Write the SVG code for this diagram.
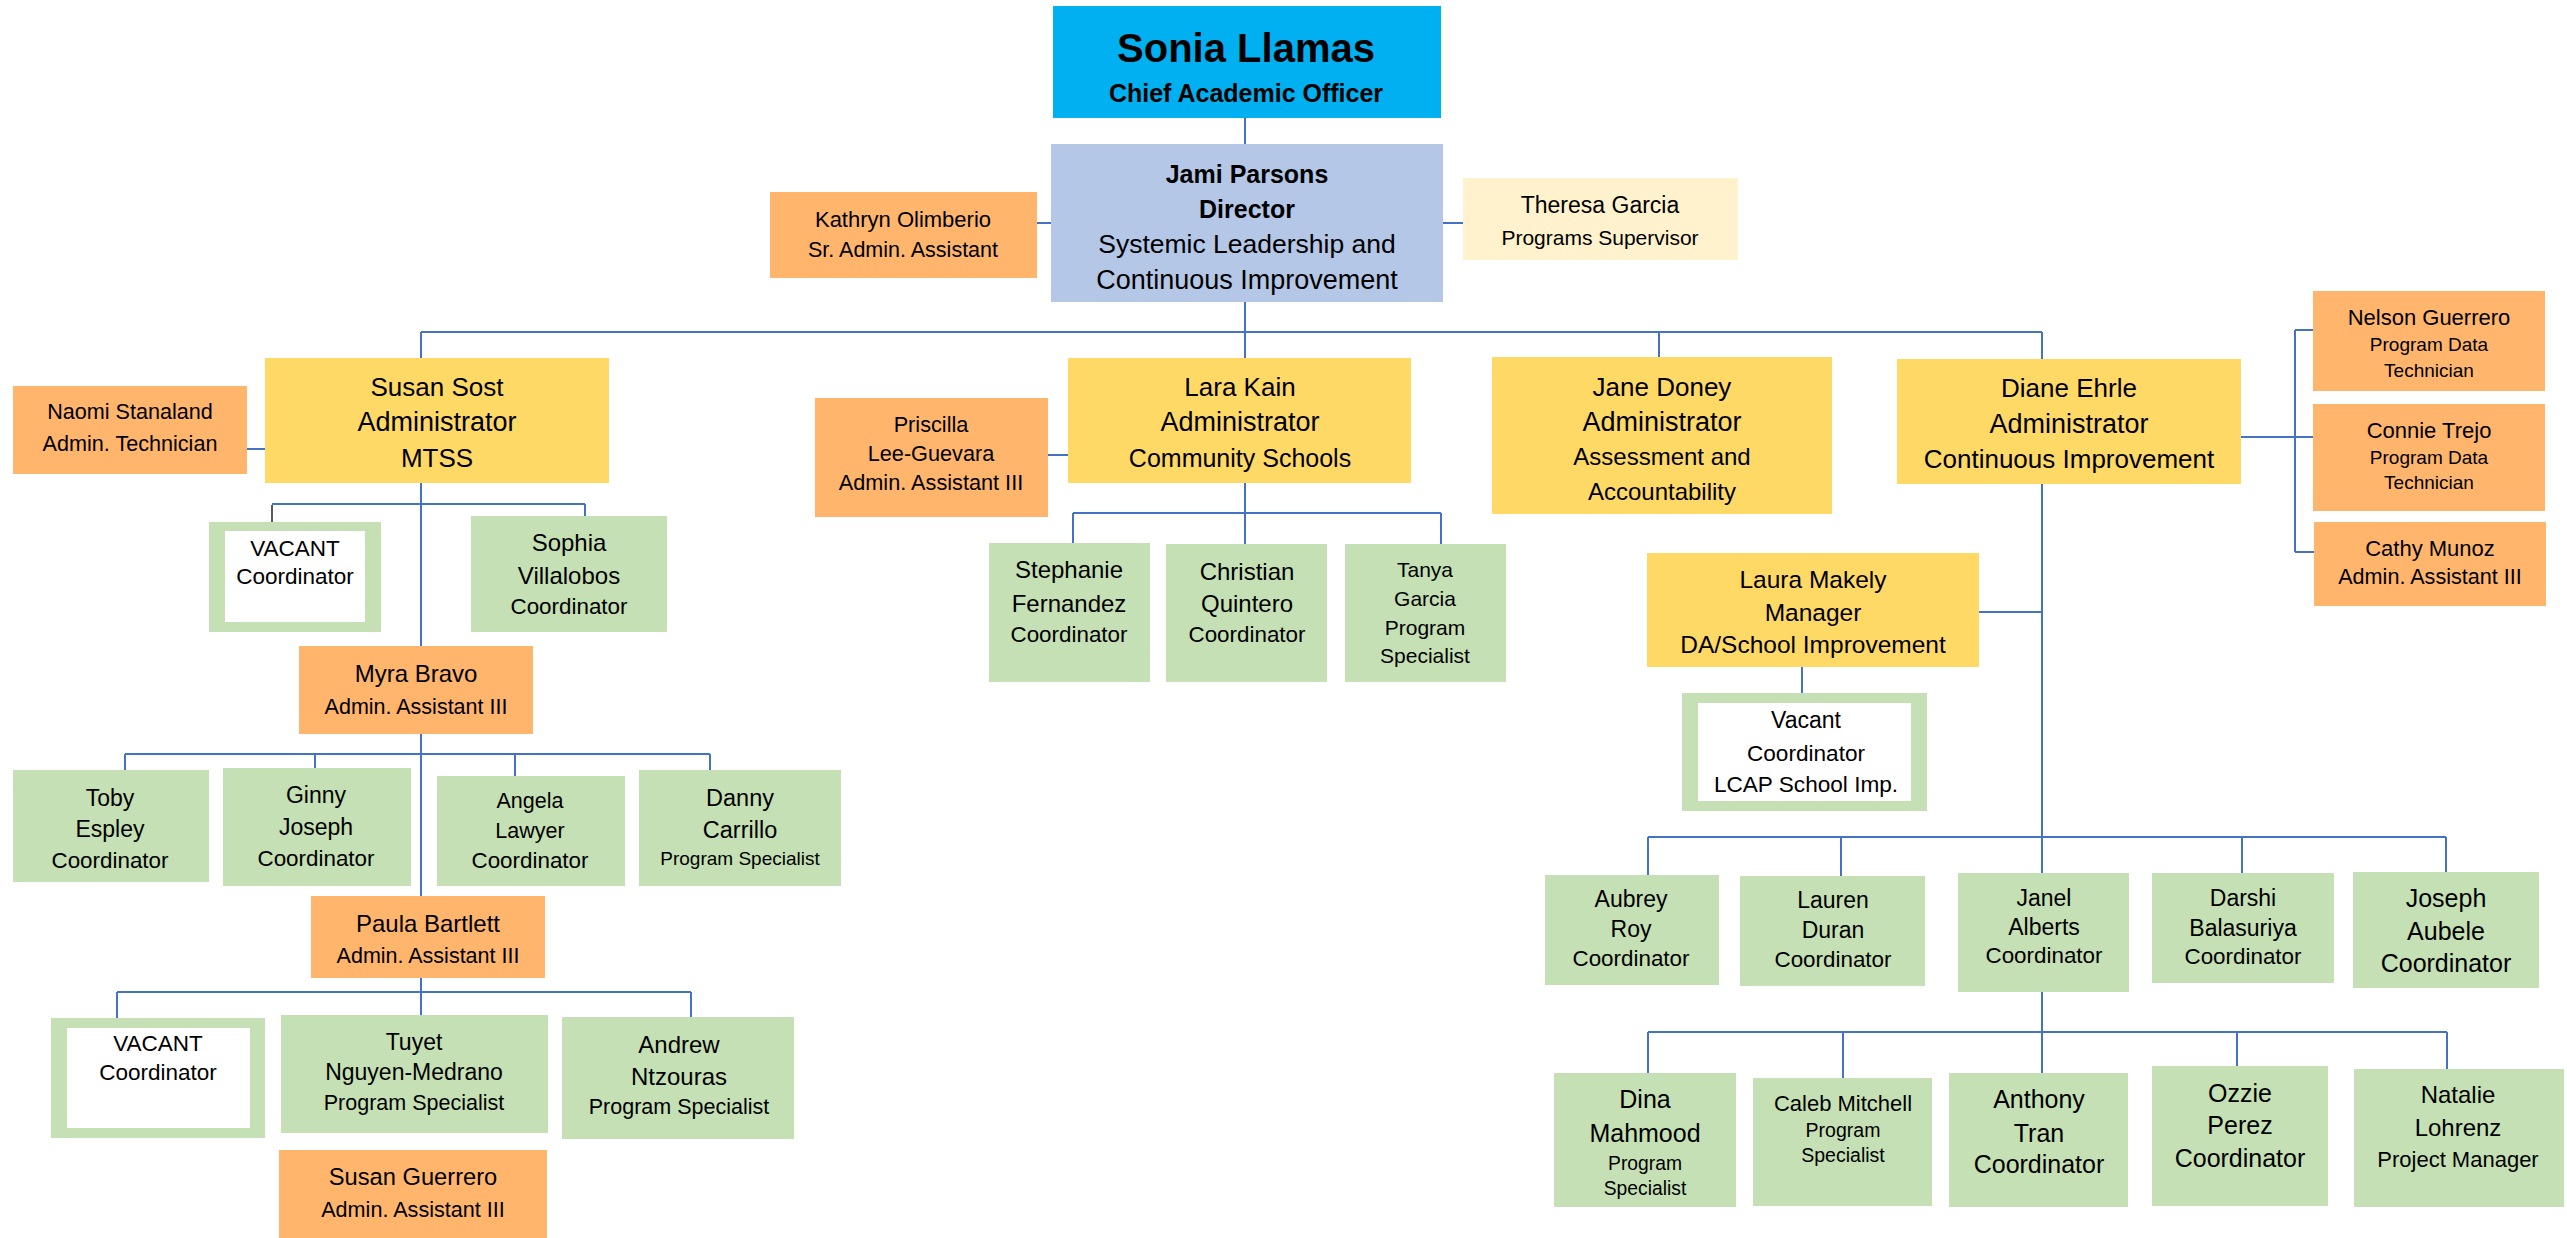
<svg xmlns="http://www.w3.org/2000/svg" width="2567" height="1238" viewBox="0 0 2567 1238">
<style>
.cy{fill:#00B0F0}.bl{fill:#B4C7E7}.or{fill:#FFB66C}.ye{fill:#FFD966}.ly{fill:#FFF2CC}.gr{fill:#C5E0B4}.wh{fill:#FFFFFF}
text{font-family:"Liberation Sans",Arial,sans-serif;text-anchor:middle;fill:#000}
.bd{font-weight:bold}
#connectors path{stroke:#4472C4;stroke-width:2;fill:none}
#connectors path.k{stroke:#222;stroke-width:1.5}
</style>
<rect width="2567" height="1238" fill="#fff"/>
<g id="connectors">
<path d="M1245,118V144M1245,302V332M1037,223H1051M1443,223H1463"/>
<path d="M421,332H2042M421,332V358M1245,332V358M1659,332V357M2042,332V359"/>
<path d="M247,449H265M421,483V646M272,504H585M585,504V516"/>
<path class="k" d="M272,505V522"/>
<path d="M421,734V896M125,754H710M125,754V770M315,754V768M515,754V776M710,754V770"/>
<path d="M421,978V1015M117,992H691M117,992V1018M691,992V1017"/>
<path d="M1048,455H1068M1245,483V544M1073,513H1441M1073,513V543M1441,513V544"/>
<path d="M2241,437H2313M2295,330V552M2295,330H2313M2295,552H2314"/>
<path d="M2042,484V873M1979,612H2042M1802,667V693"/>
<path d="M1648,837H2446M1648,837V875M1841,837V876M2242,837V873M2446,837V872"/>
<path d="M2042,992V1073M1648,1032H2447M1648,1032V1073M1843,1032V1078M2237,1032V1066M2447,1032V1069"/>
</g>
<g id="sonia"><rect class="cy" x="1053" y="6" width="388" height="112"/>
<text class="bd" x="1246" y="62" font-size="40">Sonia Llamas</text>
<text class="bd" x="1246" y="102" font-size="25">Chief Academic Officer</text></g>
<g id="jami"><rect class="bl" x="1051" y="144" width="392" height="158"/>
<text class="bd" x="1247" y="183" font-size="25">Jami Parsons</text>
<text class="bd" x="1247" y="218" font-size="25">Director</text>
<text x="1247" y="253" font-size="26.5">Systemic Leadership and</text>
<text x="1247" y="289" font-size="27">Continuous Improvement</text></g>
<g id="kathryn"><rect class="or" x="770" y="192" width="267" height="86"/>
<text x="903" y="227" font-size="22">Kathryn Olimberio</text>
<text x="903" y="257" font-size="21.5">Sr. Admin. Assistant</text></g>
<g id="theresa"><rect class="ly" x="1463" y="178" width="275" height="82"/>
<text x="1600" y="213" font-size="23">Theresa Garcia</text>
<text x="1600" y="245" font-size="21">Programs Supervisor</text></g>
<g id="susan-sost"><rect class="ye" x="265" y="358" width="344" height="125"/>
<text x="437" y="396" font-size="26">Susan Sost</text>
<text x="437" y="431" font-size="27">Administrator</text>
<text x="437" y="467" font-size="26">MTSS</text></g>
<g id="naomi"><rect class="or" x="13" y="386" width="234" height="88"/>
<text x="130" y="419" font-size="21.6">Naomi Stanaland</text>
<text x="130" y="451" font-size="21.6">Admin. Technician</text></g>
<g id="vacant1"><rect class="gr" x="209" y="522" width="172" height="110"/><rect class="wh" x="225" y="531" width="140" height="91"/>
<text x="295" y="556" font-size="22.5">VACANT</text>
<text x="295" y="584" font-size="22.5">Coordinator</text></g>
<g id="sophia"><rect class="gr" x="471" y="516" width="196" height="116"/>
<text x="569" y="551" font-size="24">Sophia</text>
<text x="569" y="584" font-size="24">Villalobos</text>
<text x="569" y="614" font-size="22.4">Coordinator</text></g>
<g id="myra"><rect class="or" x="299" y="646" width="234" height="88"/>
<text x="416" y="682" font-size="24">Myra Bravo</text>
<text x="416" y="714" font-size="21.5">Admin. Assistant III</text></g>
<g id="toby"><rect class="gr" x="13" y="770" width="196" height="112"/>
<text x="110" y="806" font-size="23">Toby</text>
<text x="110" y="837" font-size="23">Espley</text>
<text x="110" y="868" font-size="22.4">Coordinator</text></g>
<g id="ginny"><rect class="gr" x="223" y="768" width="188" height="118"/>
<text x="316" y="803" font-size="23">Ginny</text>
<text x="316" y="835" font-size="23">Joseph</text>
<text x="316" y="866" font-size="22.4">Coordinator</text></g>
<g id="angela"><rect class="gr" x="437" y="776" width="188" height="110"/>
<text x="530" y="808" font-size="21.5">Angela</text>
<text x="530" y="838" font-size="21.5">Lawyer</text>
<text x="530" y="868" font-size="22.4">Coordinator</text></g>
<g id="danny"><rect class="gr" x="639" y="770" width="202" height="116"/>
<text x="740" y="806" font-size="23.5">Danny</text>
<text x="740" y="838" font-size="23.5">Carrillo</text>
<text x="740" y="865" font-size="19">Program Specialist</text></g>
<g id="paula"><rect class="or" x="311" y="896" width="234" height="82"/>
<text x="428" y="932" font-size="24">Paula Bartlett</text>
<text x="428" y="963" font-size="21.5">Admin. Assistant III</text></g>
<g id="vacant2"><rect class="gr" x="51" y="1018" width="214" height="120"/><rect class="wh" x="67" y="1028" width="183" height="100"/>
<text x="158" y="1051" font-size="22.5">VACANT</text>
<text x="158" y="1080" font-size="22.5">Coordinator</text></g>
<g id="tuyet"><rect class="gr" x="281" y="1015" width="267" height="118"/>
<text x="414" y="1050" font-size="23">Tuyet</text>
<text x="414" y="1080" font-size="23">Nguyen-Medrano</text>
<text x="414" y="1110" font-size="21.5">Program Specialist</text></g>
<g id="andrew"><rect class="gr" x="562" y="1017" width="232" height="122"/>
<text x="679" y="1053" font-size="24">Andrew</text>
<text x="679" y="1085" font-size="24">Ntzouras</text>
<text x="679" y="1114" font-size="21.5">Program Specialist</text></g>
<g id="susan-guerrero"><rect class="or" x="279" y="1150" width="268" height="88"/>
<text x="413" y="1185" font-size="23.7">Susan Guerrero</text>
<text x="413" y="1217" font-size="21.6">Admin. Assistant III</text></g>
<g id="lara"><rect class="ye" x="1068" y="358" width="343" height="125"/>
<text x="1240" y="396" font-size="26">Lara Kain</text>
<text x="1240" y="431" font-size="27">Administrator</text>
<text x="1240" y="467" font-size="25">Community Schools</text></g>
<g id="priscilla"><rect class="or" x="815" y="398" width="233" height="119"/>
<text x="931" y="432" font-size="21.7">Priscilla</text>
<text x="931" y="461" font-size="21.7">Lee-Guevara</text>
<text x="931" y="490" font-size="21.7">Admin. Assistant III</text></g>
<g id="jane"><rect class="ye" x="1492" y="357" width="340" height="157"/>
<text x="1662" y="396" font-size="26">Jane Doney</text>
<text x="1662" y="431" font-size="27">Administrator</text>
<text x="1662" y="465" font-size="24">Assessment and</text>
<text x="1662" y="500" font-size="24">Accountability</text></g>
<g id="stephanie"><rect class="gr" x="989" y="543" width="161" height="139"/>
<text x="1069" y="578" font-size="24">Stephanie</text>
<text x="1069" y="612" font-size="24">Fernandez</text>
<text x="1069" y="642" font-size="22.4">Coordinator</text></g>
<g id="christian"><rect class="gr" x="1166" y="544" width="161" height="138"/>
<text x="1247" y="580" font-size="24">Christian</text>
<text x="1247" y="612" font-size="24">Quintero</text>
<text x="1247" y="642" font-size="22.4">Coordinator</text></g>
<g id="tanya"><rect class="gr" x="1345" y="544" width="161" height="138"/>
<text x="1425" y="577" font-size="21">Tanya</text>
<text x="1425" y="606" font-size="21">Garcia</text>
<text x="1425" y="635" font-size="21">Program</text>
<text x="1425" y="663" font-size="21">Specialist</text></g>
<g id="diane"><rect class="ye" x="1897" y="359" width="344" height="125"/>
<text x="2069" y="397" font-size="26">Diane Ehrle</text>
<text x="2069" y="433" font-size="27">Administrator</text>
<text x="2069" y="468" font-size="26">Continuous Improvement</text></g>
<g id="nelson"><rect class="or" x="2313" y="291" width="232" height="100"/>
<text x="2429" y="325" font-size="22">Nelson Guerrero</text>
<text x="2429" y="351" font-size="19">Program Data</text>
<text x="2429" y="377" font-size="19">Technician</text></g>
<g id="connie"><rect class="or" x="2313" y="404" width="232" height="107"/>
<text x="2429" y="438" font-size="22">Connie Trejo</text>
<text x="2429" y="464" font-size="19">Program Data</text>
<text x="2429" y="489" font-size="19">Technician</text></g>
<g id="cathy"><rect class="or" x="2314" y="522" width="232" height="84"/>
<text x="2430" y="556" font-size="22">Cathy Munoz</text>
<text x="2430" y="584" font-size="21.6">Admin. Assistant III</text></g>
<g id="laura"><rect class="ye" x="1647" y="553" width="332" height="114"/>
<text x="1813" y="588" font-size="24.5">Laura Makely</text>
<text x="1813" y="621" font-size="24.5">Manager</text>
<text x="1813" y="653" font-size="24.5">DA/School Improvement</text></g>
<g id="vacant-lcap"><rect class="gr" x="1682" y="693" width="245" height="118"/><rect class="wh" x="1698" y="703" width="213" height="98"/>
<text x="1806" y="728" font-size="23">Vacant</text>
<text x="1806" y="761" font-size="22.6">Coordinator</text>
<text x="1806" y="792" font-size="22.6">LCAP School Imp.</text></g>
<g id="aubrey"><rect class="gr" x="1545" y="875" width="174" height="110"/>
<text x="1631" y="907" font-size="23">Aubrey</text>
<text x="1631" y="937" font-size="23">Roy</text>
<text x="1631" y="966" font-size="22.4">Coordinator</text></g>
<g id="lauren"><rect class="gr" x="1740" y="876" width="185" height="110"/>
<text x="1833" y="908" font-size="23">Lauren</text>
<text x="1833" y="938" font-size="23">Duran</text>
<text x="1833" y="967" font-size="22.4">Coordinator</text></g>
<g id="janel"><rect class="gr" x="1958" y="873" width="171" height="119"/>
<text x="2044" y="906" font-size="23">Janel</text>
<text x="2044" y="935" font-size="23">Alberts</text>
<text x="2044" y="963" font-size="22.4">Coordinator</text></g>
<g id="darshi"><rect class="gr" x="2152" y="873" width="182" height="110"/>
<text x="2243" y="906" font-size="23">Darshi</text>
<text x="2243" y="936" font-size="23">Balasuriya</text>
<text x="2243" y="964" font-size="22.4">Coordinator</text></g>
<g id="joseph"><rect class="gr" x="2353" y="872" width="186" height="116"/>
<text x="2446" y="907" font-size="25">Joseph</text>
<text x="2446" y="940" font-size="25">Aubele</text>
<text x="2446" y="972" font-size="25">Coordinator</text></g>
<g id="dina"><rect class="gr" x="1554" y="1073" width="182" height="134"/>
<text x="1645" y="1108" font-size="25">Dina</text>
<text x="1645" y="1142" font-size="25">Mahmood</text>
<text x="1645" y="1170" font-size="19.3">Program</text>
<text x="1645" y="1195" font-size="19.3">Specialist</text></g>
<g id="caleb"><rect class="gr" x="1753" y="1078" width="179" height="128"/>
<text x="1843" y="1111" font-size="22">Caleb Mitchell</text>
<text x="1843" y="1137" font-size="19.5">Program</text>
<text x="1843" y="1162" font-size="19.5">Specialist</text></g>
<g id="anthony"><rect class="gr" x="1949" y="1073" width="179" height="134"/>
<text x="2039" y="1108" font-size="25">Anthony</text>
<text x="2039" y="1142" font-size="25">Tran</text>
<text x="2039" y="1173" font-size="25">Coordinator</text></g>
<g id="ozzie"><rect class="gr" x="2152" y="1066" width="176" height="140"/>
<text x="2240" y="1102" font-size="25">Ozzie</text>
<text x="2240" y="1134" font-size="25">Perez</text>
<text x="2240" y="1167" font-size="25">Coordinator</text></g>
<g id="natalie"><rect class="gr" x="2354" y="1069" width="210" height="138"/>
<text x="2458" y="1103" font-size="24">Natalie</text>
<text x="2458" y="1136" font-size="24">Lohrenz</text>
<text x="2458" y="1167" font-size="22">Project Manager</text></g>
</svg>
